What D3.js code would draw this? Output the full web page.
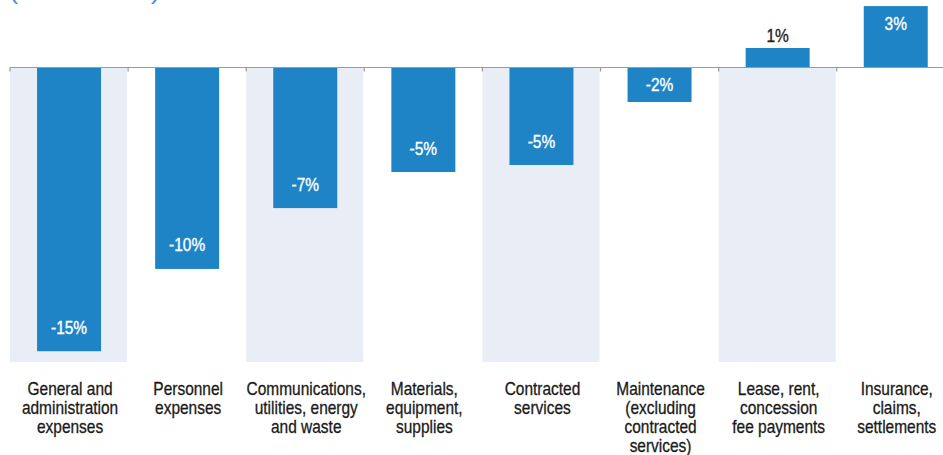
<!DOCTYPE html>
<html>
<head>
<meta charset="utf-8">
<script src="https://cdn.jsdelivr.net/npm/d3@7"></script>
<style>
  html, body { margin: 0; padding: 0; background: #fff; }
  svg { display: block; font-family: "Liberation Sans", Arial, sans-serif; }
</style>
</head>
<body>
<svg id="chart" width="943" height="455"></svg>
<script>
// Change in spending by category (percent)
const categories = [
  ["General and", "administration", "expenses"],
  ["Personnel", "expenses"],
  ["Communications,", "utilities, energy", "and waste"],
  ["Materials,", "equipment,", "supplies"],
  ["Contracted", "services"],
  ["Maintenance", "(excluding", "contracted", "services)"],
  ["Lease, rent,", "concession", "fee payments"],
  ["Insurance,", "claims,", "settlements"]
];
const values = [-14.55, -10.33, -7.21, -5.36, -5.0, -1.77, 1.0, 3.15];
const yDomain = [-16, 4];
const shadeFloor = -15.1;
const titleText = "(in % terms)";

const svg = d3.select("#chart");
const W = 943;
const left = 10, step = 118.1;
const barBlue = "#1e84c6", shade = "#e9eef6";
const squeeze = 0.86;   // condensed look for the label type

const x = d3.scaleBand()
  .domain(d3.range(categories.length))
  .range([left, left + step * categories.length])
  .paddingInner(0).paddingOuter(0);
const y = d3.scaleLinear().domain(yDomain).range([379.5, -10.5]);
const fmt = v => d3.format(".0f")(v).replace("\u2212", "-") + "%";
const barW = 64;

// title, sitting mostly above the top edge
svg.append("text")
  .attr("x", 9).attr("y", -1)
  .attr("fill", "#4a8fd6")
  .attr("font-size", 24)
  .attr("textLength", 151)
  .attr("lengthAdjust", "spacingAndGlyphs")
  .text(titleText);

// alternating shaded columns
svg.append("g").selectAll("rect")
  .data(d3.range(categories.length).filter(i => i % 2 === 0))
  .join("rect")
  .attr("x", i => x(i))
  .attr("width", x.bandwidth() - 1)
  .attr("y", y(0))
  .attr("height", y(shadeFloor) - y(0))
  .attr("fill", shade);

// bars
svg.append("g").selectAll("rect")
  .data(values)
  .join("rect")
  .attr("x", (d, i) => x(i) + (x.bandwidth() - barW) / 2)
  .attr("width", barW)
  .attr("y", d => y(Math.max(0, d)))
  .attr("height", d => Math.abs(y(d) - y(0)))
  .attr("fill", barBlue);

// zero axis with tick marks at column boundaries
const axis = svg.append("g");
axis.append("line")
  .attr("x1", left).attr("x2", W)
  .attr("y1", y(0)).attr("y2", y(0))
  .attr("stroke", "#9a9a9a").attr("stroke-width", 1.2);
axis.selectAll("line.tick")
  .data(d3.range(categories.length + 1))
  .join("line").attr("class", "tick")
  .attr("x1", i => left + i * step).attr("x2", i => left + i * step)
  .attr("y1", y(0)).attr("y2", y(0) + 4)
  .attr("stroke", "#9a9a9a").attr("stroke-width", 1.2);

// value labels
svg.append("g").selectAll("text")
  .data(values)
  .join("text")
  .attr("text-anchor", "middle")
  .attr("font-size", 18)
  .attr("stroke-width", 0.35)
  .each(function (d, i) {
    const t = d3.select(this);
    const cx = x(i) + x.bandwidth() / 2;
    const h = Math.abs(y(d) - y(0));
    let ty, col;
    if (d < 0) {
      ty = Math.max(y(d) - 24, (y(0) + y(d)) / 2) + 6.5;
      col = "#fff";
    } else if (h > 40) {
      ty = y(d) + 24;
      col = "#fff";
    } else {
      ty = y(d) - 6;
      col = "#222";
    }
    t.attr("transform", `translate(${cx},${ty}) scale(${squeeze},1)`)
      .attr("fill", col).attr("stroke", col);
  })
  .text(d => fmt(d));

// category labels
const lab = svg.append("g").selectAll("text")
  .data(categories)
  .join("text")
  .attr("text-anchor", "middle")
  .attr("font-size", 18)
  .attr("fill", "#1a1a1a")
  .attr("stroke", "#1a1a1a")
  .attr("stroke-width", 0.3)
  .attr("transform", (d, i) => `translate(${x(i) + x.bandwidth() / 2 + 1},395) scale(${squeeze},1)`);
lab.selectAll("tspan")
  .data(d => d)
  .join("tspan")
  .attr("x", 0)
  .attr("dy", (d, i) => i === 0 ? 0 : 19)
  .text(d => d);
</script>
</body>
</html>
